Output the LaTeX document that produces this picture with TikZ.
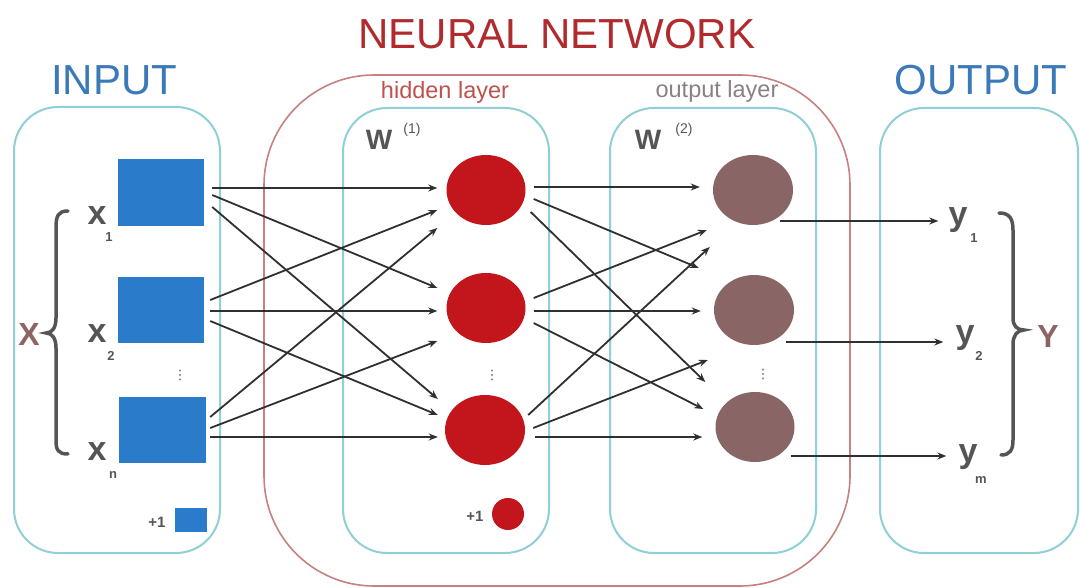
\documentclass[tikz,border=0pt]{standalone}
\usepackage{fontspec}
\setmainfont{Liberation Sans}
\newfontfamily\dejavu{DejaVu Sans}
\usetikzlibrary{shapes.geometric,arrows.meta,calc}
\definecolor{cyanbox}{HTML}{8FCFD6}
\definecolor{redbox}{HTML}{C98080}
\definecolor{inblue}{HTML}{2B7BCB}
\definecolor{hidred}{HTML}{C3161C}
\definecolor{outbrown}{HTML}{8A6565}
\definecolor{titleblue}{HTML}{3B7AB8}
\definecolor{titlered}{HTML}{B02A2E}
\definecolor{hidtext}{HTML}{C0504D}
\definecolor{outtext}{HTML}{8C8080}
\definecolor{lbl}{HTML}{555555}
\definecolor{bigxy}{HTML}{8C6464}
\definecolor{arrowc}{HTML}{303030}
\newcommand{\fsz}[1]{\fontsize{#1}{#1}\selectfont}
\begin{document}
\begin{tikzpicture}[x=1pt,y=-1pt,
  layerbox/.style={draw=cyanbox, line width=2pt, rounded corners=44},
  netbox/.style={draw=redbox, line width=1.6pt, rounded corners=110},
  inrect/.style={rectangle, fill=inblue, inner sep=0pt, draw=none},
  hidnode/.style={ellipse, fill=hidred, inner sep=0pt, draw=none, minimum width=79, minimum height=70},
  outnode/.style={ellipse, fill=outbrown, inner sep=0pt, draw=none, minimum width=80, minimum height=70},
  title/.style={inner sep=0pt, anchor=base, font=\fsz{42}},
  sub/.style={inner sep=0pt, anchor=base, font=\fsz{23.5}},
  lab/.style={inner sep=0pt, anchor=base, text=lbl, font=\fsz{34}\bfseries},
  idx/.style={inner sep=0pt, anchor=base, text=lbl, font=\fsz{13}\bfseries},
  wlab/.style={inner sep=0pt, anchor=base, text=lbl, font=\fsz{28}\bfseries},
  bias/.style={inner sep=0pt, anchor=base, text=lbl, font=\fsz{15}\bfseries},
  dotsl/.style={inner sep=0pt, text=lbl, font=\dejavu\fsz{13}},
  arr/.style={draw=arrowc, line width=1.8pt, -{Stealth[length=9pt,width=7pt]}},
  bracel/.style={draw=lbl, line width=3.5pt, line cap=round},
  bigl/.style={inner sep=0pt, anchor=base, text=bigxy, font=\fsz{32}\bfseries}
]
\fill[white] (0,0) rectangle (1080,588);
\useasboundingbox (0,0) rectangle (1080,588);

% containers
\draw[netbox] (264,75) rectangle (850,586);
\draw[layerbox] (14,107) rectangle (220,553);
\draw[layerbox] (343,108) rectangle (549,553);
\draw[layerbox] (610,108) rectangle (816,553);
\draw[layerbox] (880,108) rectangle (1078,553);

% titles
\node[title, text=titleblue] (tin) at (114,95) {INPUT};
\node[title, text=titlered] (tnn) at (557,49) {NEURAL NETWORK};
\node[title, text=titleblue] (tout) at (981,95) {OUTPUT};
\node[sub, text=hidtext] (thid) at (445,99) {hidden layer};
\node[sub, text=outtext] (tol) at (717,98) {output layer};
\node[wlab] (w1) at (379,150) {W};
\node[idx, font=\fsz{14}] (w1s) at (412,134) {(1)};
\node[wlab] (w2) at (648,150) {W};
\node[idx, font=\fsz{14}] (w2s) at (684,134) {(2)};

% input units
\node[inrect, minimum width=86, minimum height=67] (i1) at (161,192.5) {};
\node[inrect, minimum width=86, minimum height=66] (i2) at (161,310) {};
\node[inrect, minimum width=87, minimum height=66] (i3) at (162.5,430) {};
\node[inrect, minimum width=32, minimum height=24] (ib) at (191,520) {};
\node[bias] (ibl) at (157,527) {+1};
\node[dotsl] (idots) at (180,375) {⋮};

% input labels
\node[lab] (x1) at (97,225) {x};
\node[idx] (x1s) at (109,242) {1};
\node[lab] (x2) at (97,342) {x};
\node[idx] (x2s) at (111,360) {2};
\node[lab] (xn) at (97,460) {x};
\node[idx] (xns) at (113,478) {n};
\node[bigl] (bx) at (29,345) {X};
\draw[bracel] (68,211) .. controls (58,211) and (56,216) .. (56,228) -- (56,318)
  .. controls (56,328) and (52,333) .. (46,333)
  .. controls (52,333) and (56,338) .. (56,348) -- (56,440)
  .. controls (56,450) and (58,454) .. (68,454);

% hidden units
\node[hidnode] (h1) at (486,190) {};
\node[hidnode] (h2) at (486,308) {};
\node[hidnode, minimum width=80] (h3) at (485,430) {};
\node[circle, fill=hidred, inner sep=0pt, minimum size=32] (hb) at (508,514) {};
\node[bias] (hbl) at (475,521) {+1};
\node[dotsl] (hdots) at (492,375) {⋮};

% output units
\node[outnode] (o1) at (753,190) {};
\node[outnode] (o2) at (754,310) {};
\node[outnode, minimum width=79] (o3) at (755,427) {};
\node[dotsl] (odots) at (763,374) {⋮};

% output labels
\node[lab] (y1) at (958,226) {y};
\node[idx] (y1s) at (974,243) {1};
\node[lab] (y2) at (965,344) {y};
\node[idx] (y2s) at (979,360) {2};
\node[lab] (ym) at (968,462) {y};
\node[idx] (yms) at (981,483) {m};
\node[bigl] (by) at (1048,348) {Y};
\draw[bracel] (999,213) .. controls (1009,213) and (1013,218) .. (1013,230) -- (1013,318)
  .. controls (1013,326) and (1017,330) .. (1024,330)
  .. controls (1017,330) and (1013,336) .. (1013,344) -- (1013,440)
  .. controls (1013,450) and (1010,455) .. (1001,455);

% input -> hidden
\draw[arr] ($(i1.east)+(8,-4.5)$) -- ($(h1.west)+(-9,-2)$);
\draw[arr] ($(i1.east)+(8,2.5)$) -- ($(h2.west)+(-9,-20)$);
\draw[arr] ($(i1.east)+(8,14.5)$) -- ($(h3.west)+(-7,-31)$);
\draw[arr] ($(i2.east)+(6,-10)$) -- ($(h1.west)+(-9,20)$);
\draw[arr] ($(i2.east)+(6,1)$) -- ($(h2.west)+(-9,3)$);
\draw[arr] ($(i2.east)+(6,11)$) -- ($(h3.west)+(-7,-15)$);
\draw[arr] ($(i3.east)+(4,-13)$) -- ($(h1.west)+(-9,38)$);
\draw[arr] ($(i3.east)+(4,-2)$) -- ($(h2.west)+(-9,33)$);
\draw[arr] ($(i3.east)+(4,7)$) -- ($(h3.west)+(-7,7)$);

% hidden -> output
\draw[arr] ($(h1.east)+(8,-3)$) -- ($(o1.west)+(-13,-3)$);
\draw[arr] ($(h1.east)+(8,9)$) -- ($(o2.west)+(-15,-42)$);
\draw[arr] ($(h1.east)+(5,22)$) -- ($(o3.west)+(-10,-45)$);
\draw[arr] ($(h2.east)+(8,-10)$) -- ($(o1.west)+(-6,40)$);
\draw[arr] ($(h2.east)+(8,3)$) -- ($(o2.west)+(-13,1)$);
\draw[arr] ($(h2.east)+(8,15)$) -- ($(o3.west)+(-12,-18)$);
\draw[arr] ($(h3.east)+(3,-15)$) -- ($(o1.west)+(-3,57)$);
\draw[arr] ($(h3.east)+(8,-2)$) -- ($(o2.west)+(-6,50)$);
\draw[arr] ($(h3.east)+(10,7)$) -- ($(o3.west)+(-13,10)$);

% output -> y
\coordinate (s1) at ($(o1.east)+(-13,31)$);
\coordinate (s2) at ($(o2.east)+(-8,32)$);
\coordinate (s3) at ($(o3.east)+(-4,29)$);
\draw[arr] (s1) -- ([xshift=-10pt]s1 -| y1.west);
\draw[arr] (s2) -- ([xshift=-12pt]s2 -| y2.west);
\draw[arr] (s3) -- ([xshift=-12pt]s3 -| ym.west);
\end{tikzpicture}
\end{document}
